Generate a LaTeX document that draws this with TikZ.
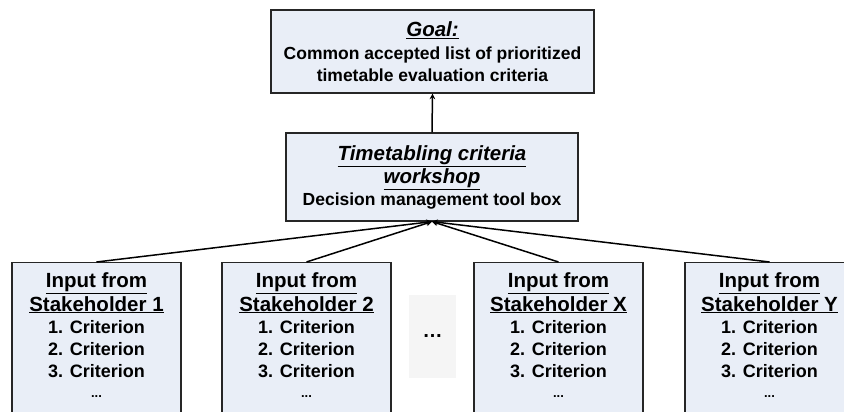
\documentclass[tikz,border=0pt]{standalone}
\usepackage{fontspec}
\setmainfont{Liberation Sans}
\usetikzlibrary{arrows,positioning}

\definecolor{boxfill}{RGB}{233,238,247}
\definecolor{dotfill}{RGB}{245,245,245}
\newcommand{\ihdr}[1]{{\fontsize{20.5}{24}\selectfont\itshape\underline{#1}}}
\newcommand{\hdr}[1]{{\fontsize{20.5}{24}\selectfont\underline{#1}}}

\tikzset{
  box/.style={draw=black!85, line width=1.2pt, fill=boxfill, align=center,
    inner sep=0pt, font=\bfseries\fontsize{17.5}{21.5}\selectfont},
  inbox/.style={draw=black!85, line width=1.2pt, fill=boxfill, anchor=north,
    minimum width=169pt, minimum height=170pt},
  intext/.style={align=center, inner sep=0pt, font=\bfseries\fontsize{18}{22}\selectfont},
}

\begin{document}
\begin{tikzpicture}[x=1pt, y=-1pt, >=stealth]
  \useasboundingbox (0,0) rectangle (844,412);
  \clip (0,0) rectangle (844,412);

  \node[box, minimum width=323pt, minimum height=83pt] (goal) at (432.5,51.5)
    {\ihdr{Goal:}\\[2pt] Common accepted list of prioritized\\ timetable evaluation criteria};
  \node[box, minimum width=292pt, minimum height=88pt] (work) at (432,177)
    {\ihdr{Timetabling criteria}\\[2pt] \ihdr{workshop}\\ Decision management tool box};

  \foreach \nm/\x/\lab in {s1/96.5/1, s2/306.5/2, sx/558.5/X, sy/769.5/Y} {
    \node[inbox] (\nm) at (\x,262) {};
    \node[intext, below=10pt of \nm.north] (\nm t)
      {\hdr{Input from}\\[2pt] \hdr{Stakeholder \lab}\\ 1. Criterion\\ 2. Criterion\\ 3. Criterion\\[-2pt] {\fontsize{13}{22}\selectfont ...}};
  }

  \node[fill=dotfill, minimum width=47pt, minimum height=83pt,
    font=\bfseries\fontsize{20}{24}\selectfont] (dots) at (432.5,336.5) {…};

  \path[->, line width=1.5pt]
  (work.north) edge (goal.south)
  (s1.north) edge (work.south)
  (s2.north) edge (work.south)
  (sx.north) edge (work.south)
  (sy.north) edge (work.south)
  ;
\end{tikzpicture}
\end{document}
